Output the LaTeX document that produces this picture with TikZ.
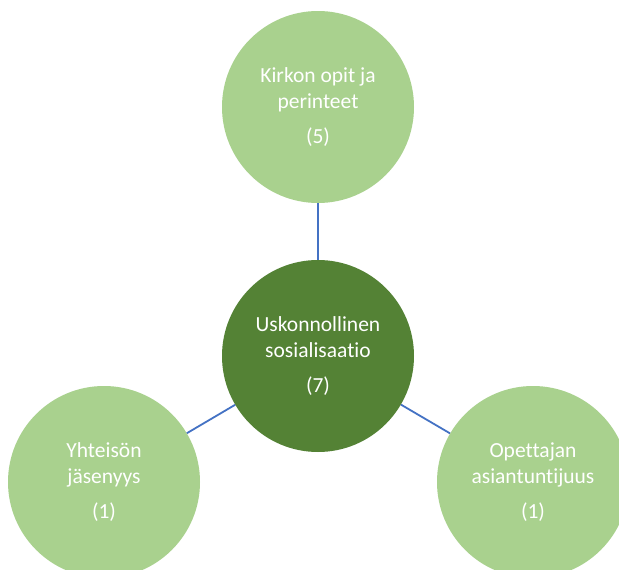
\documentclass[tikz,border=0pt]{standalone}
\usepackage{fontspec}
\setmainfont{Carlito}[Ligatures={NoCommon}]
\definecolor{lightg}{HTML}{A9D18E}
\definecolor{darkg}{HTML}{548235}
\definecolor{linkc}{HTML}{4472C4}
\begin{document}
\begin{tikzpicture}[x=1pt,y=-1pt,
  bub/.style={circle,minimum size=192pt,inner sep=0pt,text=white,align=center,
    font=\fontsize{21.5}{26}\selectfont},
  outer/.style={bub,fill=lightg},
  inner/.style={bub,fill=darkg},
  link/.style={draw=linkc,line width=1.8pt}]
\clip (0,0) rectangle (619,570);
\fill[white] (0,0) rectangle (619,570);
\node[inner] (c) at (318,356) {Uskonnollinen\\sosialisaatio\\[9pt](7)};
\node[outer] (t) at (318,107) {Kirkon opit ja\\perinteet\\[9pt](5)};
\node[outer] (l) at (104,482) {Yhteisön\\jäsenyys\\[9pt](1)};
\node[outer] (r) at (533,482) {Opettajan\\asiantuntijuus\\[9pt](1)};
\draw[link] (c) -- (t);
\draw[link] (c) -- (l);
\draw[link] (c) -- (r);
\end{tikzpicture}
\end{document}
